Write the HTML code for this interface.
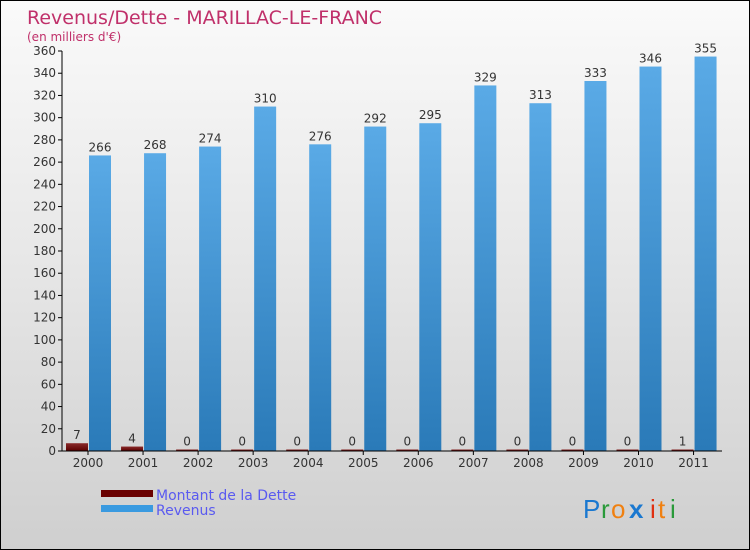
<!DOCTYPE html>
<html><head><meta charset="utf-8"><style>
body{margin:0;width:750px;height:550px;overflow:hidden;}
#c{position:relative;width:748px;height:548px;border:1px solid #000;background:linear-gradient(#fafafa,#e8e8e8 45%,#cfcfcf);}
svg{position:absolute;left:0;top:0;font-family:"DejaVu Sans","Liberation Sans",sans-serif;}
</style></head><body>
<div id="c">
<svg id="s" width="748" height="548">
<defs>
<linearGradient id="gr" x1="0" x2="0" y1="0" y2="1"><stop offset="0" stop-color="#5aaae6"/><stop offset="1" stop-color="#2a7ab8"/></linearGradient>
<linearGradient id="gd" x1="0" x2="0" y1="0" y2="1"><stop offset="0" stop-color="#8a2a2a"/><stop offset="1" stop-color="#5a0000"/></linearGradient>
</defs>
<text x="26" y="23" font-size="19" fill="#c0306a">Revenus/Dette - MARILLAC-LE-FRANC</text>
<text x="26" y="40" font-size="12" fill="#c0306a">(en milliers d'€)</text>
<g id="plot"></g>
<rect x="100" y="489" width="52" height="7" fill="#6a0000"/>
<text x="155" y="499" font-size="14" fill="#5a5af0">Montant de la Dette</text>
<rect x="100" y="504" width="52" height="7" fill="#3a9ae0"/>
<text x="155" y="514" font-size="14" fill="#5a5af0">Revenus</text>
<g font-size="26" font-family="Liberation Sans,sans-serif">
<text x="582" y="517" fill="#1a78d0">P</text><text x="600" y="517" fill="#2a9a3a">r</text><text x="610" y="517" fill="#f08010">o</text><text x="628" y="517" fill="#1a78d0" font-weight="bold">x</text><text x="649" y="517" fill="#e03010">i</text><text x="657" y="517" fill="#f08010">t</text><text x="669" y="517" fill="#2a9a3a">i</text>
</g>
</svg></div>
<script>
const years=["2000","2001","2002","2003","2004","2005","2006","2007","2008","2009","2010","2011"];
const dette=[7,4,0,0,0,0,0,0,0,0,0,1];
const revenus=[266,268,274,310,276,292,295,329,313,333,346,355];
const yTicks=[0,20,40,60,80,100,120,140,160,180,200,220,240,260,280,300,320,340,360];
const NS="http://www.w3.org/2000/svg";
const g=document.getElementById('plot');
const y=v=>450-v*400/360;
const x=i=>87+55.05*i;
function mk(t,a,txt){const e=document.createElementNS(NS,t);for(const k in a)e.setAttribute(k,a[k]);if(txt!==undefined)e.textContent=txt;g.appendChild(e);return e;}
yTicks.forEach(v=>{
 const l=mk('line',{x1:57,x2:61,y1:y(v),y2:y(v),stroke:'#000'});
 
 
 const t=mk('text',{x:55,y:y(v)+4,'font-size':12,fill:'#333','text-anchor':'end'},v);
 
 
});
years.forEach((yr,i)=>{
 const cx=x(i);
 const dh=Math.max(450-y(dette[i]),1.5);
 const d=mk('rect',{x:cx-22,y:450-dh,width:22,height:dh,fill:'url(#gd)'});
 
 
 const dl=mk('text',{x:cx-11,y:450-dh-4,'font-size':12,fill:'#333','text-anchor':'middle'},dette[i]);
 
 
 const r=mk('rect',{x:cx+1,y:y(revenus[i]),width:22,height:450-y(revenus[i]),fill:'url(#gr)'});
 
 
 const rl=mk('text',{x:cx+12,y:y(revenus[i])-4,'font-size':12,fill:'#333','text-anchor':'middle'},revenus[i]);
 
 
 const tk=mk('line',{x1:cx,x2:cx,y1:450,y2:454,stroke:'#000'});
 
 
 const xl=mk('text',{x:cx,y:466,'font-size':12,fill:'#333','text-anchor':'middle'},yr);
 
 
});
const ya=mk('line',{x1:61,x2:61,y1:50,y2:450,stroke:'#000'});


const xa=mk('line',{x1:61,x2:721,y1:450,y2:450,stroke:'#000'});


</script>
</body></html>
